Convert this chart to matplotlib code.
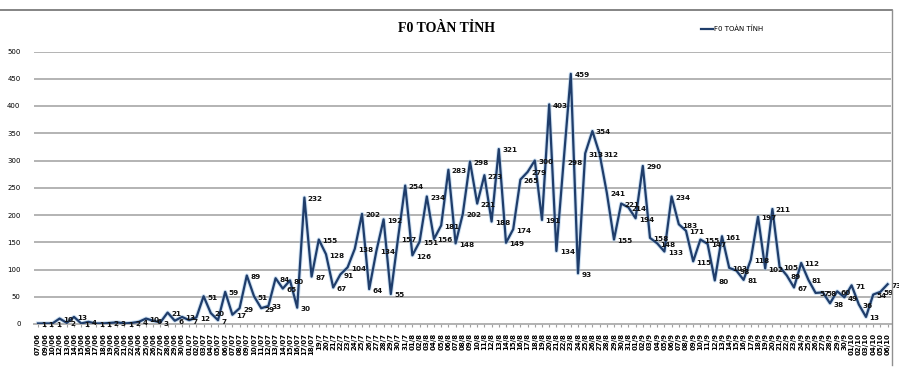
import matplotlib
matplotlib.use("Agg")
import matplotlib.pyplot as plt
from matplotlib.lines import Line2D

# dates present in the series (a few June days are missing)
june_days = [7, 9, 10, 12, 13, 14, 15, 16, 17, 18, 19, 20, 21, 22, 24, 25, 26, 27, 28, 29, 30]
july_days = list(range(1, 32))
aug_days = list(range(1, 32))
sep_days = list(range(1, 31))
oct_days = [1, 2, 3, 4, 5, 6]

f0_cases = [
    1, 1, 1, 10, 2, 13, 1, 4, 1, 1, 2, 3, 1, 2, 4, 10, 6, 3, 21, 6, 13, 7, 12, 51, 20, 7, 59,
    17, 29, 89, 51, 29, 33, 84, 65, 80, 30,
    232, 87, 155, 128, 67, 91, 104, 138, 202, 64,
    134, 192, 55, 157, 254, 126, 151, 234, 156, 181,
    283, 148, 202, 298, 221, 273, 188, 321, 149, 174,
    265, 279, 300, 191, 403, 134, 298, 459, 93, 313,
    354, 312, 241, 155, 221, 214, 194, 290, 158, 148,
    133, 234, 183, 171, 115, 155, 147, 80, 161, 103,
    98, 81, 118, 197, 102, 211, 105, 89, 67, 112,
    81, 57, 58, 38, 60, 49, 71, 36, 13, 54,
    59, 73,
]

SERIES_NAME = "F0 TOÀN TỈNH"
NARROW = ["Liberation Sans Narrow", "DejaVu Sans"]


def date_labels() -> list[str]:
    labels = [f"{d:02d}/06" for d in june_days]
    for d in july_days:
        labels.append(f"{d:02d}/07" if d <= 18 else f"{d}/7")
    labels += [f"{d:02d}/8" for d in aug_days]
    labels += [f"{d:02d}/9" for d in sep_days]
    labels += [f"{d:02d}/10" for d in oct_days]
    return labels


labels = date_labels()
x = list(range(len(f0_cases)))

fig = plt.figure(figsize=(8.99, 3.67), dpi=100)
ax = fig.add_axes([34.4 / 899, 43 / 367, 856.8 / 899, 272.5 / 367])

line_color = "#1f3d6b"
ax.plot(x, f0_cases, color="#9dc3e6", linewidth=3.0, alpha=0.5, zorder=2)
ax.plot(x, f0_cases, color=line_color, linewidth=1.6, zorder=3, label=SERIES_NAME)

for xi, v in zip(x, f0_cases):
    ax.annotate(str(v), (xi, v), xytext=(2.5, -1), textcoords="offset points",
                ha="left", va="center", fontsize=5.2, fontweight="bold",
                family=NARROW, color="#111111", zorder=4)

ax.set_xlim(-0.5, len(x) - 0.5)
ax.set_ylim(0, 500)
ax.set_yticks(range(0, 501, 50))
ax.set_yticklabels([str(v) for v in range(0, 501, 50)], fontsize=5, family=NARROW)
ax.set_xticks(x)
ax.set_xticklabels(labels, rotation=90, fontsize=5, fontweight="bold", family=NARROW)
ax.tick_params(axis="y", length=0, pad=10)
ax.tick_params(axis="x", length=2.5, color="#a0a0a0", pad=4)

ax.grid(axis="y", color="#b3b3b3", linewidth=1.4)
ax.set_axisbelow(True)
for side in ["top", "right", "left"]:
    ax.spines[side].set_visible(False)
ax.spines["bottom"].set_color("#b3b3b3")
ax.spines["bottom"].set_linewidth(1.4)

fig.text(447 / 899, 1 - 28 / 367, SERIES_NAME, ha="center", va="center",
         fontsize=10, fontweight="bold", family=["Liberation Serif", "DejaVu Serif"])
fig.legend(loc="center left", bbox_to_anchor=(698 / 899, 1 - 29 / 367), frameon=False,
           handlelength=1.6, handletextpad=0.2, borderpad=0,
           prop={"size": 5, "family": NARROW})

# chart area frame (top and right edges visible in the original)
fig.add_artist(Line2D([0, 892 / 899], [1 - 10 / 367] * 2, transform=fig.transFigure,
                      color="#707070", linewidth=1.2))
fig.add_artist(Line2D([892 / 899] * 2, [1 - 10 / 367, 2 / 367], transform=fig.transFigure,
                      color="#909090", linewidth=1.0))

fig.savefig("out.png", dpi=100)
